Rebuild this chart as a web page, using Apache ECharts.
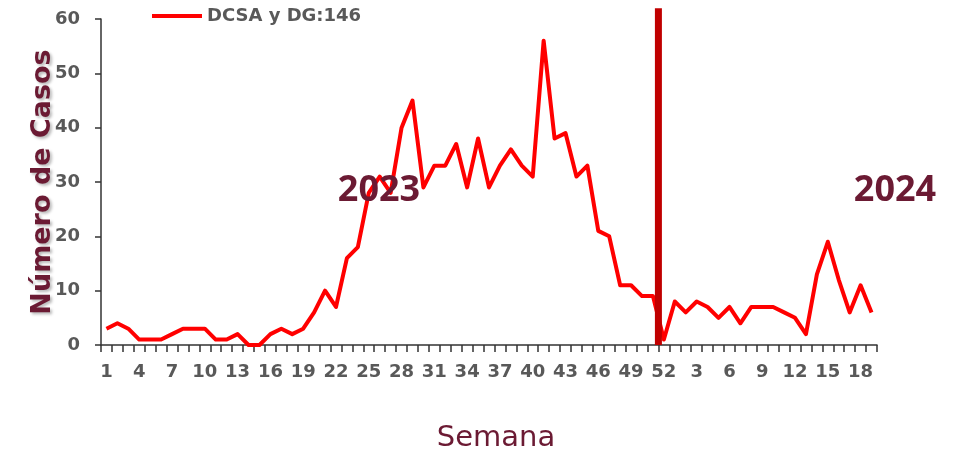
<!DOCTYPE html>
<html>
<head>
<meta charset="utf-8">
<script src="https://cdn.jsdelivr.net/npm/echarts@6/dist/echarts.min.js"></script>
<style>
  html, body { margin: 0; padding: 0; background: #ffffff; }
  #chart { width: 961px; height: 449px; }
</style>
</head>
<body>
<div id="chart"></div>
<script>
// Epidemiological weeks: 2023 weeks 1-52 followed by 2024 weeks 1-19
const weeks = [
  '1','2','3','4','5','6','7','8','9','10','11','12','13','14','15','16','17','18','19','20',
  '21','22','23','24','25','26','27','28','29','30','31','32','33','34','35','36','37','38','39','40',
  '41','42','43','44','45','46','47','48','49','50','51','52',
  '1','2','3','4','5','6','7','8','9','10','11','12','13','14','15','16','17','18','19'
];

// Weekly case counts
const cases2023 = [
  3, 4, 3, 1, 1, 1, 2, 3, 3, 3, 1, 1, 2, 0, 0, 2, 3, 2, 3, 6,
  10, 7, 16, 18, 28, 31, 28, 40, 45, 29, 33, 33, 37, 29, 38, 29, 33, 36, 33, 31,
  56, 38, 39, 31, 33, 21, 20, 11, 11, 9, 9, 1
];
const cases2024 = [8, 6, 8, 7, 5, 7, 4, 7, 7, 7, 6, 5, 2, 13, 19, 12, 6, 11, 6];

const seriesName = 'DCSA y DG:146';
const yearLabels = ['2023', '2024'];

// Year divider sits on the boundary after the 51st category, reaching above the plot top
const dividerAt = 51;
const dividerTop = 62;

const maroon = '#6B1A33';
const grey = '#595959';
const axisFont = 'DejaVu Sans';

// Plot area edges, in pixels
const plotLeft = 101, plotRight = 877, plotTop = 19, plotBottom = 345;

const chart = echarts.init(document.getElementById('chart'), null, { width: 961, height: 449 });
chart.setOption({
  animation: false,
  backgroundColor: '#ffffff',
  grid: {
    left: plotLeft, top: plotTop,
    width: plotRight - plotLeft, height: plotBottom - plotTop,
    containLabel: false,
    outerBoundsMode: 'none'
  },
  legend: {
    data: [seriesName],
    left: 147, top: 2,
    icon: 'rect', itemWidth: 50, itemHeight: 4,
    textStyle: { color: grey, fontSize: 18, fontWeight: 'bold', fontFamily: axisFont }
  },
  xAxis: [
    {
      type: 'category',
      data: weeks,
      boundaryGap: true,
      name: 'Semana',
      nameLocation: 'middle',
      nameGap: 79,
      nameMoveOverlap: false,
      nameTextStyle: { color: maroon, fontSize: 29, fontFamily: axisFont, padding: [0, 0, 0, 14] },
      axisLine: { lineStyle: { color: '#333333', width: 1.5 } },
      axisTick: { show: true, interval: 0, length: 7, lineStyle: { color: '#333333', width: 1.5 } },
      axisLabel: { interval: 2, margin: 18, color: grey, fontSize: 18, fontWeight: 'bold', fontFamily: axisFont },
      splitLine: { show: false }
    },
    {
      type: 'value', min: 0, max: weeks.length, show: false
    }
  ],
  yAxis: {
    type: 'value',
    min: 0, max: 60, interval: 10,
    name: 'Número de Casos',
    nameLocation: 'middle',
    nameRotate: 90,
    nameGap: 45,
    nameMoveOverlap: false,
    nameTextStyle: {
      color: maroon, fontSize: 27, fontWeight: 'bold', fontFamily: axisFont,
      textShadowColor: 'rgba(0,0,0,0.28)', textShadowBlur: 3, textShadowOffsetX: 2, textShadowOffsetY: 2
    },
    axisLine: { show: true, lineStyle: { color: '#333333', width: 1.5 } },
    axisTick: { show: true, length: 6, lineStyle: { color: '#333333', width: 1.5 } },
    axisLabel: { margin: 21, color: grey, fontSize: 18, fontWeight: 'bold', fontFamily: axisFont },
    splitLine: { show: false }
  },
  series: [
    {
      name: seriesName,
      type: 'line',
      data: cases2023.concat(cases2024),
      symbol: 'none',
      lineStyle: { color: '#FF0000', width: 4, join: 'round' },
      itemStyle: { color: '#FF0000' },
      z: 2
    },
    {
      name: 'divider',
      type: 'line',
      xAxisIndex: 1,
      data: [[dividerAt, 0], [dividerAt, dividerTop]],
      symbol: 'none',
      clip: false,
      lineStyle: { color: '#C00000', width: 7, cap: 'butt' },
      z: 3,
      silent: true
    }
  ],
  graphic: [
    {
      type: 'text', x: 379, y: 191, z: 10,
      style: { text: yearLabels[0], fill: maroon, font: 'bold 36px "Noto Sans"', align: 'center', verticalAlign: 'middle', textAlign: 'center', textVerticalAlign: 'middle' }
    },
    {
      type: 'text', x: 895, y: 191, z: 10,
      style: { text: yearLabels[1], fill: maroon, font: 'bold 36px "Noto Sans"', align: 'center', verticalAlign: 'middle', textAlign: 'center', textVerticalAlign: 'middle' }
    }
  ]
});
</script>
</body>
</html>
